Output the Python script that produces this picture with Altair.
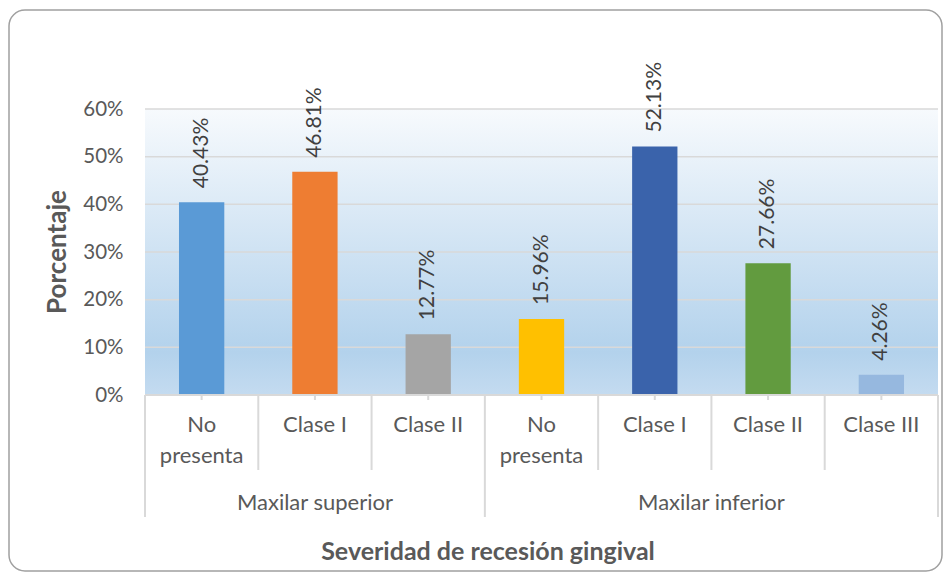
import altair as alt
import pandas as pd

groups = ["Maxilar superior"] * 3 + ["Maxilar inferior"] * 4
categories = ["No\npresenta", "Clase I", "Clase II", "No\npresenta", "Clase I", "Clase II", "Clase III"]
values = [0.4043, 0.4681, 0.1277, 0.1596, 0.5213, 0.2766, 0.0426]
colors = ["#5a9ad6", "#ee7d32", "#a5a5a5", "#ffc000", "#3a63ab", "#629b3f", "#96b8df"]
y_ticks = [0.1, 0.2, 0.3, 0.4, 0.5, 0.6]
group_names = ["Maxilar superior", "Maxilar inferior"]

keys = [f"{g}|{c}" for g, c in zip(groups, categories)]
df = pd.DataFrame({"key": keys, "group": groups, "cat": categories, "value": values, "color": colors})

W, H = 793, 286
FONT = "Lato"


def xs(field="key:N", bp=0.5):
    return alt.X(field, bandPosition=bp,
                 scale=alt.Scale(domain=keys, paddingInner=0, paddingOuter=0), axis=None)


yscale = alt.Scale(domain=[0, 0.6], nice=False)
one = alt.Data(values=[{"a": 1}])

bg = alt.Chart(one).mark_rect(
    fill=alt.LinearGradient(
        gradient="linear",
        stops=[alt.GradientStop(color="#f7fafd", offset=0),
               alt.GradientStop(color="#b3d2ec", offset=0.85),
               alt.GradientStop(color="#c4dbf0", offset=1)],
        x1=0, x2=0, y1=0, y2=1),
).encode(x=alt.value(0), x2=alt.value(W), y=alt.value(0), y2=alt.value(H))

grid = alt.Chart(pd.DataFrame({"t": y_ticks})).mark_rule(color="#d9d9d9", strokeWidth=1.5).encode(
    y=alt.Y("t:Q", scale=yscale,
            axis=alt.Axis(format="%", values=[0] + y_ticks, grid=False, domain=False, ticks=False,
                          labelFont=FONT, labelFontSize=20.5, labelColor="#595959", labelPadding=22,
                          title=None)),
    x=alt.value(0), x2=alt.value(W))

base = alt.Chart(df)
bars = base.mark_bar(width=alt.RelativeBandSize(0.4)).encode(
    x=xs(), y=alt.Y("value:Q", scale=yscale), color=alt.Color("color:N", scale=None))

labels = base.mark_text(angle=270, align="left", baseline="middle", dx=14, font=FONT, fontSize=21,
                        color="#404040").encode(
    x=xs(), y=alt.Y("value:Q", scale=yscale), text=alt.Text("value:Q", format=".2%"))

axis_line = alt.Chart(one).mark_rule(color="#d9d9d9", strokeWidth=2).encode(
    x=alt.value(0), x2=alt.value(W), y=alt.value(H))

inner_keys = pd.DataFrame({"key": [keys[i] for i in (1, 2, 4, 5, 6)]})
outer_keys = pd.DataFrame({"key": [keys[0], keys[3]]})
last_key = pd.DataFrame({"key": [keys[-1]]})

inner_sep = alt.Chart(inner_keys).mark_rule(color="#d9d9d9", strokeWidth=2).encode(
    x=xs(bp=0), y=alt.value(H), y2=alt.value(H + 75))
outer_sep = alt.Chart(outer_keys).mark_rule(color="#d9d9d9", strokeWidth=2).encode(
    x=xs(bp=0), y=alt.value(H), y2=alt.value(H + 122))
end_sep = alt.Chart(last_key).mark_rule(color="#d9d9d9", strokeWidth=2).encode(
    x=xs(bp=1), y=alt.value(H), y2=alt.value(H + 122))
ticks = base.mark_rule(color="#d9d9d9", strokeWidth=2).encode(
    x=xs(), y=alt.value(H), y2=alt.value(H + 5))

cat_text = base.mark_text(baseline="top", align="center", font=FONT, fontSize=22, color="#595959",
                          lineBreak="\n", lineHeight=31).encode(
    x=xs(), y=alt.value(H + 20), text="cat:N")

grp_style = dict(baseline="top", align="center", font=FONT, fontSize=22, color="#595959")
grp1 = alt.Chart(pd.DataFrame({"key": [keys[1]], "group": [group_names[0]]})).mark_text(**grp_style).encode(
    x=xs(bp=0.5), y=alt.value(H + 98), text="group:N")
grp2 = alt.Chart(pd.DataFrame({"key": [keys[5]], "group": [group_names[1]]})).mark_text(**grp_style).encode(
    x=xs(bp=0), y=alt.value(H + 98), text="group:N")

xtitle = alt.Chart(alt.Data(values=[{"t": "Severidad de recesión gingival"}])).mark_text(
    align="center", baseline="alphabetic", font=FONT, fontSize=25, fontWeight="bold", color="#595959").encode(
    x=alt.value(343), y=alt.value(H + 165), text="t:N")

ytitle = alt.Chart(alt.Data(values=[{"t": "Porcentaje"}])).mark_text(
    align="center", baseline="middle", angle=270, font=FONT, fontSize=26, fontWeight="bold",
    color="#595959").encode(x=alt.value(-87), y=alt.value(H / 2), text="t:N")

border = alt.Chart(one).mark_rect(fill=None, stroke="#a0a0a0", strokeWidth=1.5, cornerRadius=16).encode(
    x=alt.value(-136), x2=alt.value(797), y=alt.value(-99), y2=alt.value(462))

chart = alt.layer(bg, grid, bars, labels, axis_line, inner_sep, outer_sep, end_sep, ticks,
                  cat_text, grp1, grp2, xtitle, ytitle, border).properties(
    width=W, height=H,
    autosize=alt.AutoSizeParams(type="none"),
    padding={"left": 137, "top": 101, "right": 6, "bottom": 178},
    background="white",
).configure_view(stroke=None)

chart.save("out.html", embed_options={"renderer": "svg", "actions": False})
